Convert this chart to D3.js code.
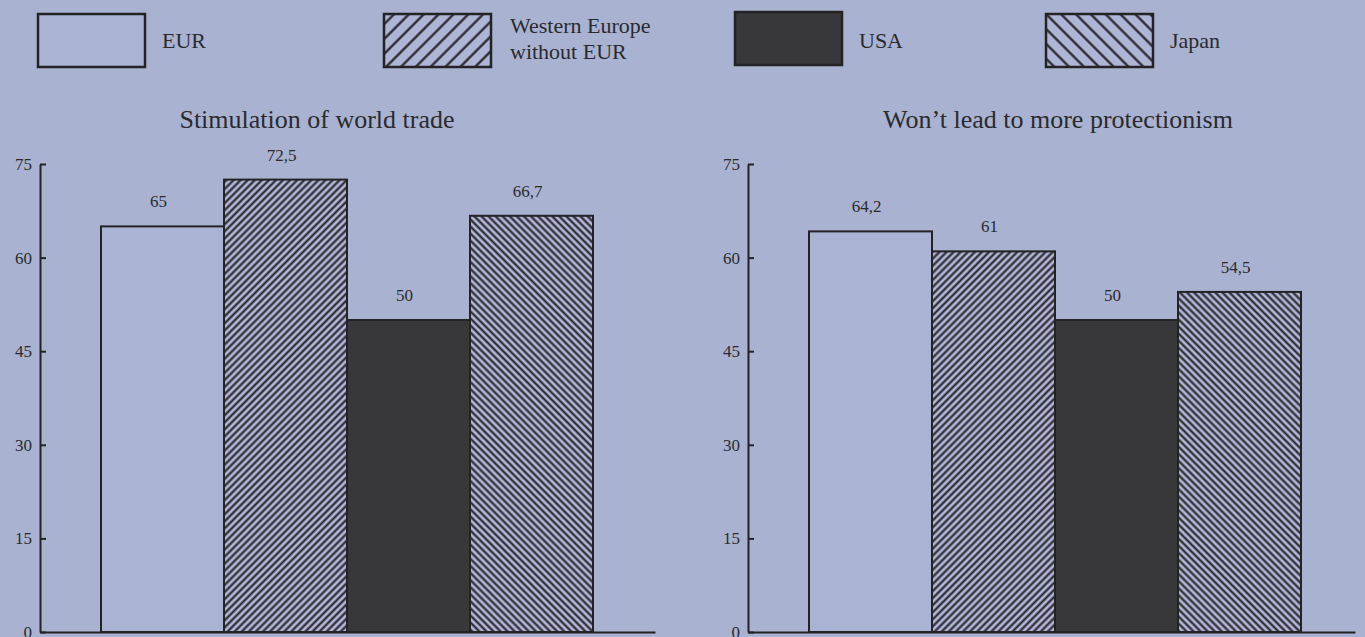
<!DOCTYPE html>
<html>
<head>
<meta charset="utf-8">
<script src="https://cdn.jsdelivr.net/npm/d3@7"></script>
<style>
  html, body { margin: 0; padding: 0; background: #a9b3d1; }
  svg { display: block; }
  text { font-family: "Liberation Serif", "DejaVu Serif", serif; fill: #2a2a2e; }
</style>
</head>
<body>
<svg id="chart" width="1365" height="637"></svg>
<script>
// Regions compared in both panels
const groups = ["EUR", "Western Europe without EUR", "USA", "Japan"];
const legendLines = [["EUR"], ["Western Europe", "without EUR"], ["USA"], ["Japan"]];

// Panel titles
const panelTitles = ["Stimulation of world trade", "Won\u2019t lead to more protectionism"];

// Share of respondents (%) per region
const tradeValues = [65, 72.5, 50, 66.7];
const protectionValues = [64.2, 61, 50, 54.5];

// Y axis ticks
const yTicks = [0, 15, 30, 45, 60, 75];

const panelValues = [tradeValues, protectionValues];

const svg = d3.select("#chart");
const ink = "#232326";

// Comma decimal separator for the value labels
const locale = d3.formatLocale({ decimal: ",", thousands: " ", grouping: [3], currency: ["", ""] });
const fmt = v => Number.isInteger(v) ? String(v) : locale.format(".1f")(v);

// Fill patterns
const defs = svg.append("defs");
function hatch(id, size, angle, lineW, bg) {
  const p = defs.append("pattern")
    .attr("id", id)
    .attr("patternUnits", "userSpaceOnUse")
    .attr("width", size).attr("height", size)
    .attr("patternTransform", `rotate(${angle})`);
  p.append("rect").attr("width", size).attr("height", size).attr("fill", bg);
  p.append("line")
    .attr("x1", size / 2).attr("y1", -1)
    .attr("x2", size / 2).attr("y2", size + 1)
    .attr("stroke", ink).attr("stroke-width", lineW);
}
const hatchBg = "#b4b6da";
hatch("fwd-bar", 5, 45, 2.1, hatchBg);
hatch("back-bar", 5, -45, 2.1, hatchBg);
hatch("fwd-key", 10.5, 45, 2.2, "#aeb5d6");
hatch("back-key", 10.5, -45, 2.2, "#aeb5d6");

const barFill = ["#aab3d3", "url(#fwd-bar)", "#38383b", "url(#back-bar)"];
const keyFill = ["#aab3d3", "url(#fwd-key)", "#38383b", "url(#back-key)"];

// Legend layout: left edge and top of each key box
const keyLeft = [38, 384, 735, 1046];
const keyTop = [14, 14, 12, 14];
const legend = svg.append("g");
groups.forEach((g, i) => {
  const x0 = keyLeft[i];
  legend.append("rect")
    .attr("x", x0).attr("y", keyTop[i])
    .attr("width", 107).attr("height", 53)
    .attr("fill", keyFill[i])
    .attr("stroke", ink).attr("stroke-width", 2.5);
  const lines = legendLines[i];
  const tx = x0 + 107 + (i === 1 ? 19 : 17);
  const t = legend.append("text").attr("font-size", 22);
  lines.forEach((ln, k) => {
    t.append("tspan")
      .attr("x", tx)
      .attr("y", lines.length === 1 ? 48 : 33 + k * 26)
      .text(ln);
  });
});

// Panels
const y = d3.scaleLinear().domain([0, 75]).range([632, 164]);
const panelLeft = [40, 748];
const axisLen = [615, 607];
const titleCenter = [317, 1058];

panelValues.forEach((vals, p) => {
  const x0 = panelLeft[p];
  const g = svg.append("g");

  const x = d3.scaleBand().domain(groups).range([x0 + 61, x0 + 553]).padding(0);

  // Title
  g.append("text")
    .attr("x", titleCenter[p])
    .attr("y", 128)
    .attr("text-anchor", "middle")
    .attr("font-size", 26)
    .text(panelTitles[p]);

  // Bars
  g.selectAll("rect.bar")
    .data(vals)
    .join("rect")
    .attr("class", "bar")
    .attr("x", (d, i) => x(groups[i]))
    .attr("y", d => y(d))
    .attr("width", x.bandwidth())
    .attr("height", d => y(0) - y(d))
    .attr("fill", (d, i) => barFill[i])
    .attr("stroke", ink)
    .attr("stroke-width", 2);

  // Value labels
  g.selectAll("text.val")
    .data(vals)
    .join("text")
    .attr("class", "val")
    .attr("x", (d, i) => x(groups[i]) + x.bandwidth() / 2 - 4)
    .attr("y", d => y(d) - 19)
    .attr("text-anchor", "middle")
    .attr("font-size", 17)
    .text(d => fmt(d));

  // X baseline
  const xb = d3.scaleLinear().domain([0, 1]).range([x0, x0 + axisLen[p]]);
  g.append("g")
    .attr("transform", `translate(0,${y(0)})`)
    .call(d3.axisBottom(xb).tickValues([]).tickSizeOuter(0))
    .call(a => a.select(".domain").attr("stroke", ink).attr("stroke-width", 2));

  // Y axis with inward ticks
  g.append("g")
    .attr("transform", `translate(${x0},0)`)
    .call(d3.axisLeft(y).tickValues(yTicks).tickSizeInner(-6).tickSizeOuter(0).tickPadding(8))
    .call(a => a.select(".domain").attr("stroke", ink).attr("stroke-width", 2))
    .call(a => a.selectAll(".tick line").attr("stroke", ink).attr("stroke-width", 2))
    .call(a => a.selectAll(".tick text")
      .attr("font-family", "'Liberation Serif', serif")
      .attr("font-size", 17)
      .attr("fill", "#2a2a2e"));
});
</script>
</body>
</html>
